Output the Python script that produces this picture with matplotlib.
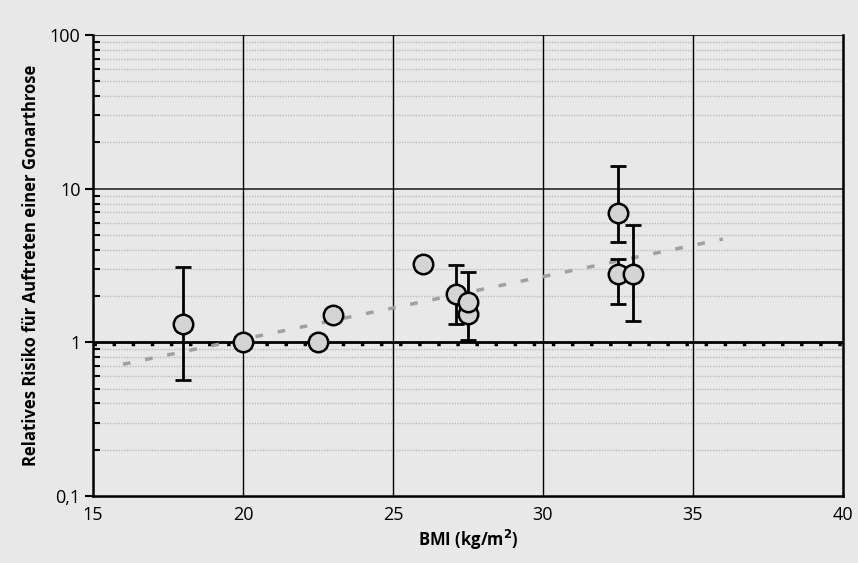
import matplotlib.pyplot as plt
import numpy as np

plt.rcParams['font.family'] = ['Open Sans', 'DejaVu Sans']

# studies: BMI vs relative risk (with 95% CI where available)
bmi = [18.0, 20.0, 22.5, 23.0, 26.0, 27.1, 27.5, 27.5, 32.5, 32.5, 33.0]
rr = [1.31, 1.0, 1.0, 1.5, 3.22, 2.05, 1.54, 1.82, 6.9, 2.8, 2.8]
ci_low = [0.57, np.nan, np.nan, np.nan, np.nan, 1.31, np.nan, 1.03, 4.5, 1.77, 1.37]
ci_high = [3.08, np.nan, np.nan, np.nan, np.nan, 3.17, np.nan, 2.85, 14.0, 3.47, 5.77]

# exponential trend (straight on log axis)
trend_x = [16.0, 36.0]
trend_y = [0.72, 4.7]

y_ticks = [0.1, 1, 10, 100]
y_ticklabels = ["0,1", "1", "10", "100"]
x_ticks = [15, 20, 25, 30, 35, 40]

bg = "#e8e8e8"
fig = plt.figure(figsize=(8.58, 5.63), dpi=100, facecolor=bg)
ax = fig.add_axes([0.1084, 0.119, 0.874, 0.8188], facecolor=bg)
ax.set_yscale("log")
ax.set_xlim(15, 40)
ax.set_ylim(0.1, 100)

# grid
for dec in [0.1, 1, 10]:
    for m in range(2, 10):
        ax.axhline(dec * m, color="#bdbdbd", lw=1.0, ls=(0, (1, 1)), zorder=1)
ax.axhline(10, color="#444444", lw=1.4, zorder=1)
ax.axhline(100, color="#333333", lw=1.5, zorder=1)
for xv in [20, 25, 30, 35]:
    ax.axvline(xv, color="black", lw=1.0, zorder=1)

# reference line RR = 1
ax.axhline(1, color="black", lw=2.0, zorder=2)
ax.axhline(0.975, color="black", lw=2.5, ls=(0, (1, 4.5)), zorder=2)

# trend
ax.plot(trend_x, trend_y, color="#a0a0a0", lw=2.5, ls=(0, (2.2, 4.3)), zorder=3)

# error bars
b = np.array(bmi)
r = np.array(rr)
lo = np.array(ci_low)
hi = np.array(ci_high)
has = ~np.isnan(lo)
ax.errorbar(b[has], r[has], yerr=[r[has] - lo[has], hi[has] - r[has]],
            fmt="none", ecolor="black", elinewidth=2, capsize=6, capthick=2, zorder=4)
ax.plot(bmi, rr, "o", ms=14, mfc="#d4d4d4", mec="black", mew=1.8, zorder=5)

ax.set_yticks(y_ticks)
ax.set_yticklabels(y_ticklabels)
ax.yaxis.set_minor_formatter(plt.NullFormatter())
ax.tick_params(axis="y", which="major", direction="out", length=6, width=1.5, labelsize=13, pad=3)
ax.tick_params(axis="y", which="minor", direction="in", length=5, width=1.5)
ax.set_xticks(x_ticks)
ax.tick_params(axis="x", length=0, labelsize=13, pad=7)

for side in ["left", "right", "bottom"]:
    ax.spines[side].set_linewidth(1.8)
ax.spines["top"].set_visible(False)

ax.set_xlabel("BMI (kg/m$^\\mathbf{2}$)", fontsize=12, fontweight="bold", labelpad=3)
ax.set_ylabel("Relatives Risiko für Auftreten einer Gonarthrose", fontsize=12,
              fontweight="bold", labelpad=7)

fig.savefig("out.png", dpi=100, facecolor=bg)
